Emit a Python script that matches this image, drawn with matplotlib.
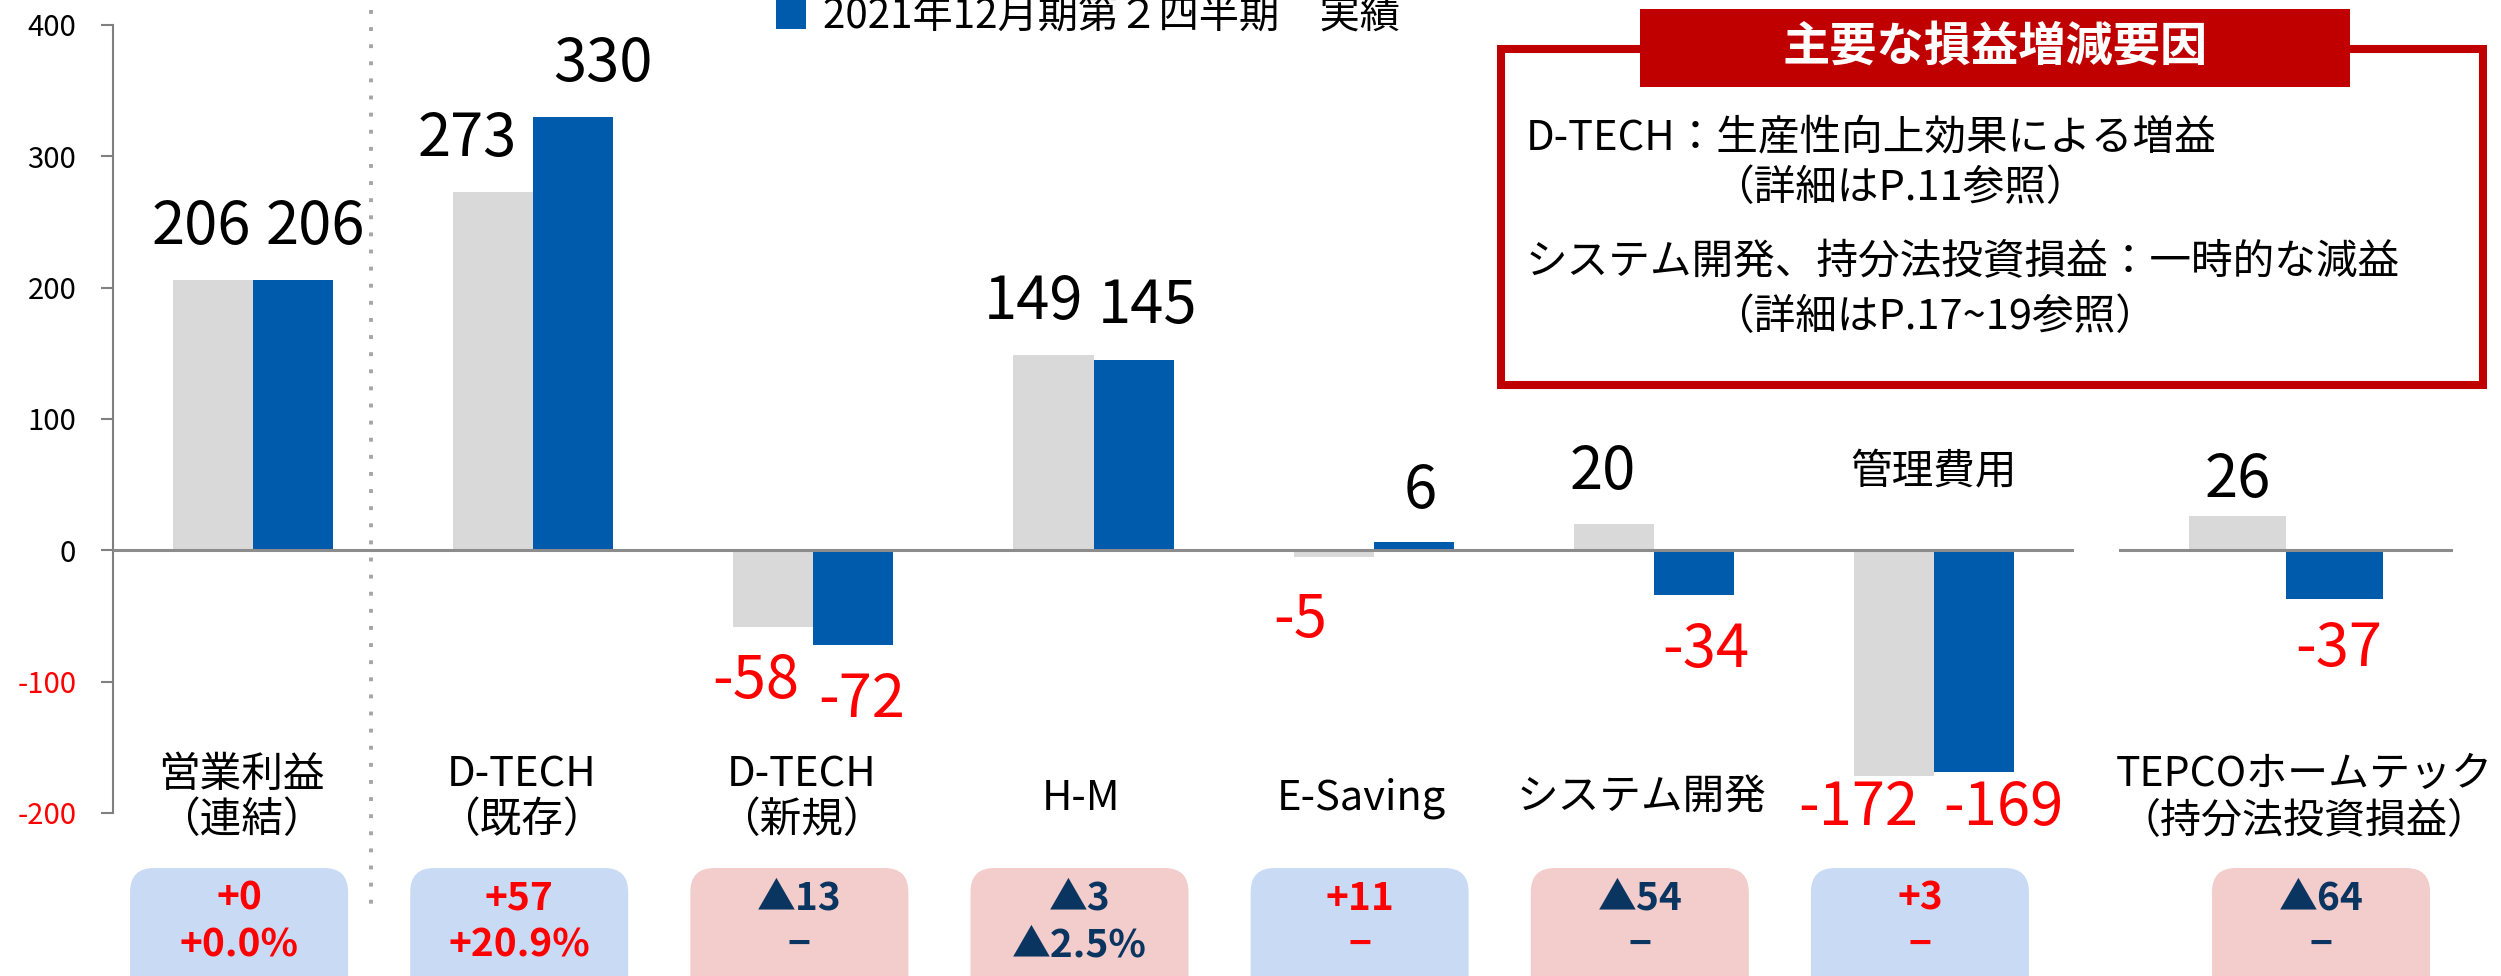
import matplotlib
matplotlib.use("Agg")
import matplotlib.pyplot as plt
import matplotlib.transforms as mtransforms
from matplotlib.patches import FancyBboxPatch, Rectangle
from matplotlib.lines import Line2D

plt.rcParams['font.family'] = ['Noto Sans CJK JP', 'DejaVu Sans']

# data (億円?)
categories = ["営業利益\n（連結）", "D-TECH\n（既存）", "D-TECH\n（新規）", "H-M",
              "E-Saving", "システム開発", "管理費用"]
prev_q2 = [206, 273, -58, 149, -5, 20, -172]
curr_q2 = [206, 330, -72, 145, 6, -34, -169]

tepco_label = "TEPCOホームテック\n（持分法投資損益）"
tepco_prev = [26]
tepco_curr = [-37]

diff_text = ["+0", "+57", "▲13", "▲3", "+11", "▲54", "+3", "▲64"]
rate_text = ["+0.0%", "+20.9%", "−", "▲2.5%", "−", "−", "−", "−"]

yticks = [-200, -100, 0, 100, 200, 300, 400]
legend_label = "2021年12月期第２四半期　実績"

box_title = "主要な損益増減要因"
box_lines = ["D-TECH：生産性向上効果による増益", "（詳細はP.11参照）",
             "システム開発、持分法投資損益：一時的な減益", "（詳細はP.17~19参照）"]

# label nudges in pixels (manual placement as on the slide)
prev_dx = [-12, -26, -18, -20, -33, -11, -36]
curr_dx = [22, 30, 8, 14, 7, 12, 29]
prev_dy = [52, 52, 55, 52, 64, 52, 32]
curr_dy = [52, 52, 56, 53, 51, 56, 36]

GRAY = "#D9D9D9"
BLUE = "#005BAC"
RED = "#FF0000"
NAVY = "#0A3560"
W, H = 2501, 976

fig = plt.figure(figsize=(W / 100, H / 100), dpi=100)


def fx(x):
    return x / W


def fy(y):
    return 1 - y / H


ax = fig.add_axes([fx(113), fy(813), (2074 - 113) / W, (813 - 25) / H])
ax2 = fig.add_axes([fx(2119), fy(813), (2453 - 2119) / W, (813 - 25) / H])

bw = 0.286
x = list(range(len(categories)))
ax.bar([i - bw / 2 for i in x], prev_q2, bw, color=GRAY, zorder=2)
ax.bar([i + bw / 2 for i in x], curr_q2, bw, color=BLUE, zorder=2)
ax.set_xlim(-0.5, len(categories) - 0.5)
ax.set_ylim(-200, 400)
ax.axhline(0, color="#8C8C8C", lw=2.2, zorder=3)

bw2 = 0.29
ax2.bar([-bw2 / 2], tepco_prev, bw2, color=GRAY, zorder=2)
ax2.bar([bw2 / 2], tepco_curr, bw2, color=BLUE, zorder=2)
ax2.set_xlim(-0.5, 0.5)
ax2.set_ylim(-200, 400)
ax2.axhline(0, color="#8C8C8C", lw=2.2, zorder=3)
ax2.axis("off")

for s in ["top", "right", "bottom"]:
    ax.spines[s].set_visible(False)
ax.spines["left"].set_color("#808080")
ax.spines["left"].set_linewidth(1.5)
ax.set_xticks([])
ax.set_yticks(yticks)
ax.set_yticklabels([str(t) for t in yticks], fontsize=21)
ax.tick_params(axis="y", length=8.5, width=1.5, color="#808080", pad=18)
for lab, t in zip(ax.get_yticklabels(), yticks):
    lab.set_color(RED if t < 0 else "black")


def value_label(a, xpos, v, dx, dy):
    a.annotate(str(v), (xpos, v), xytext=(dx * 0.72, (dy if v >= 0 else -dy) * 0.72),
               textcoords="offset points", ha="center", va="center",
               fontsize=43, color=RED if v < 0 else "black", zorder=5)


for i in x:
    value_label(ax, i - bw / 2, prev_q2[i], prev_dx[i], prev_dy[i])
    value_label(ax, i + bw / 2, curr_q2[i], curr_dx[i], curr_dy[i])
value_label(ax2, -bw2 / 2, tepco_prev[0], 0, 36)
value_label(ax2, bw2 / 2, tepco_curr[0], 4, 51)

# category names
shift = mtransforms.ScaledTranslation(-12 / 100, 0, fig.dpi_scale_trans)
blend = mtransforms.blended_transform_factory(ax.transData, fig.transFigure) + shift
for i, name in enumerate(categories):
    ypix = 473 if name == "管理費用" else 798
    fig.text(i, fy(ypix), name, transform=blend if name != "管理費用" else
             mtransforms.blended_transform_factory(ax.transData, fig.transFigure),
             ha="center", va="center", fontsize=30, linespacing=1.15)
shift2 = mtransforms.ScaledTranslation(18 / 100, 0, fig.dpi_scale_trans)
blend2 = mtransforms.blended_transform_factory(ax2.transData, fig.transFigure) + shift2
fig.text(0, fy(798), tepco_label, transform=blend2, ha="center", va="center",
         fontsize=29.5, linespacing=1.17)

# dotted separator
fig.add_artist(Line2D([fx(371), fx(371)], [fy(10), fy(912)], transform=fig.transFigure,
                      color="#A6A6A6", lw=2.8, linestyle=(0, (1, 3.4))))

# change boxes at the bottom
fig.canvas.draw()
centers = [ax.transData.transform((i, 0))[0] - 14 for i in x]
centers.append(ax2.transData.transform((0, 0))[0] + 35)
for c, d, r in zip(centers, diff_text, rate_text):
    up = d.startswith("+")
    fig.add_artist(FancyBboxPatch((c - 109, H - 1010), 218, 142,
                                  boxstyle="round,pad=0,rounding_size=24",
                                  transform=None, facecolor="#C9DAF5" if up else "#F3CCCC",
                                  edgecolor="none"))
    col = RED if up else NAVY
    fig.text(c / W, fy(898), d, ha="center", va="center", fontsize=28,
             fontweight="bold", color=col)
    fig.text(c / W, fy(945), r, ha="center", va="center", fontsize=28,
             fontweight="bold", color=col)

# legend (blue series)
fig.add_artist(Rectangle((fx(776), fy(29)), 30 / W, 31 / H, transform=fig.transFigure,
                         facecolor=BLUE, edgecolor="none"))
fig.text(fx(823), fy(16), legend_label, ha="left", va="center", fontsize=29)

# explanation box
fig.add_artist(Rectangle((fx(1501), fy(385)), (2483 - 1501) / W, (385 - 49) / H,
                         transform=fig.transFigure, facecolor="white",
                         edgecolor="#C00000", lw=5.8))
fig.add_artist(Rectangle((fx(1640), fy(87)), (2350 - 1640) / W, (87 - 9) / H,
                         transform=fig.transFigure, facecolor="#C00000", edgecolor="none"))
fig.text(fx(1995), fy(47), box_title, ha="center", va="center", fontsize=34,
         fontweight="bold", color="white")
for txt, xl, yl in zip(box_lines, [1526, 1712, 1526, 1712], [138, 188, 263, 317]):
    fig.text(fx(xl), fy(yl), txt, ha="left", va="center", fontsize=30)

fig.savefig("out.png", dpi=100)
